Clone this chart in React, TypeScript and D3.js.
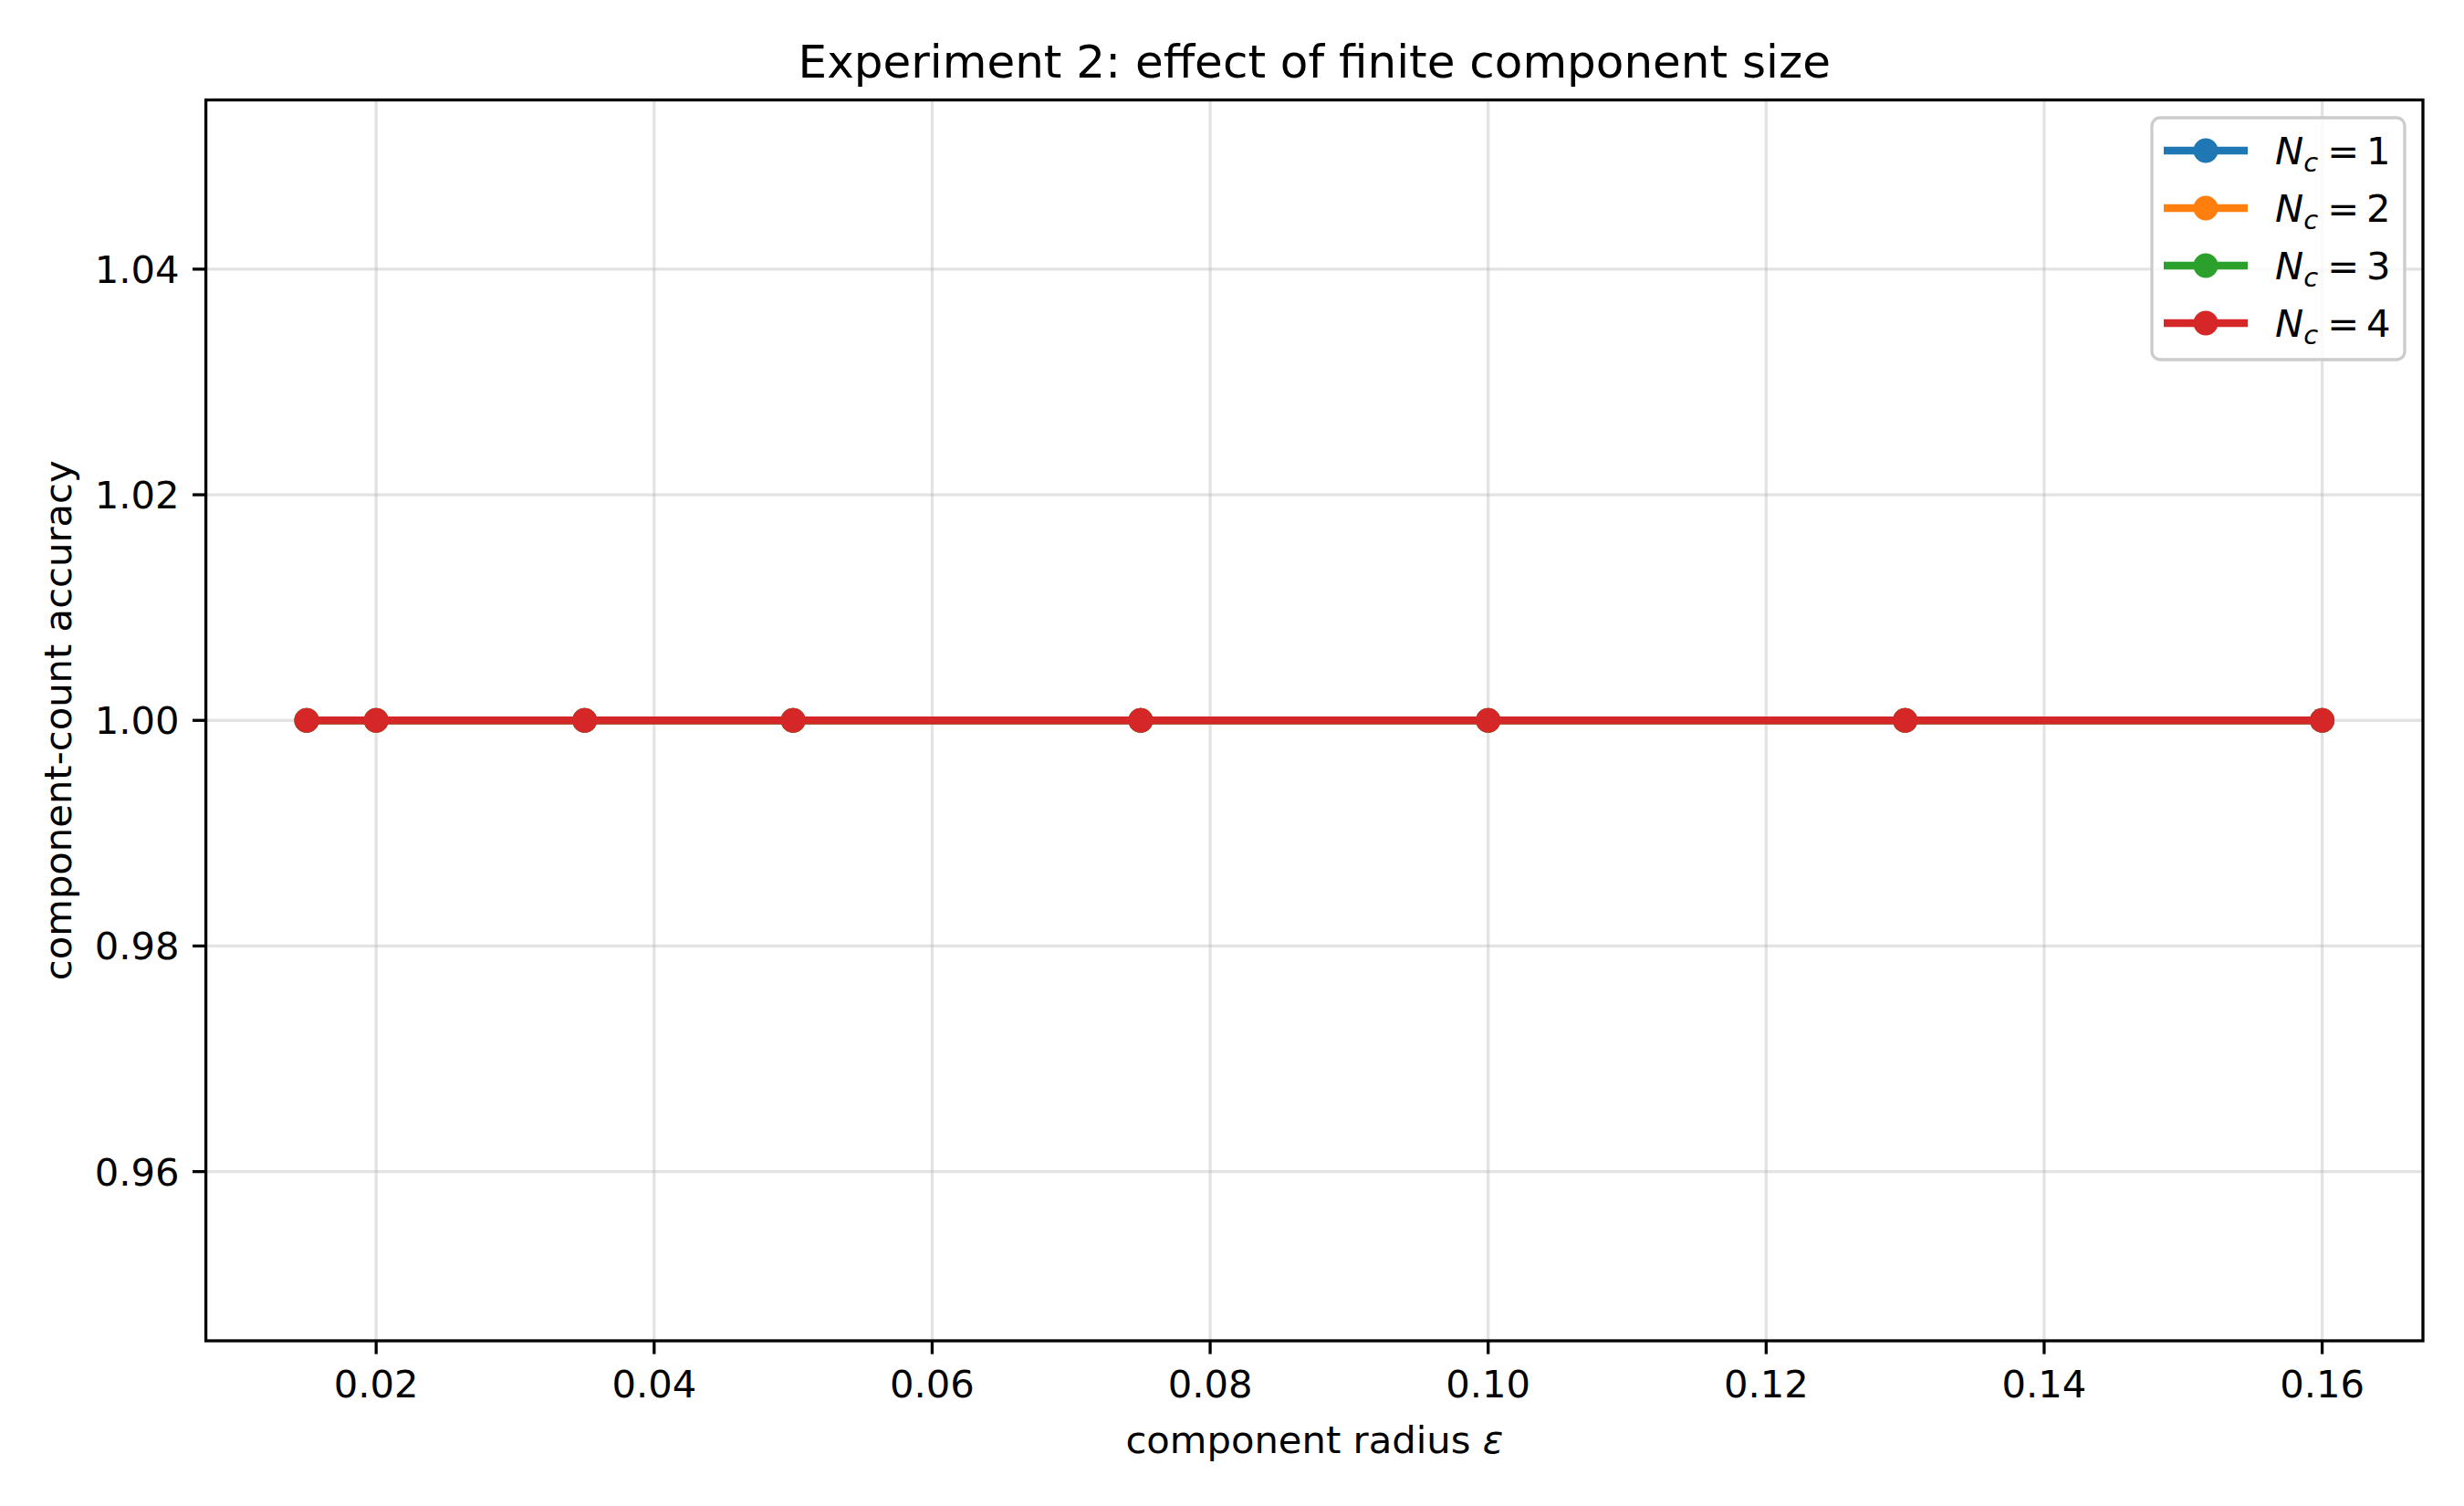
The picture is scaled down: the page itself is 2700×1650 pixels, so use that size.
import React from "react";
import * as d3 from "d3";

const radii = [0.015, 0.02, 0.035, 0.05, 0.075, 0.1, 0.13, 0.16];
const seriesNames = ["1", "2", "3", "4"];
const seriesColors = ["#1f77b4", "#ff7f0e", "#2ca02c", "#d62728"];
const accNc1 = [1, 1, 1, 1, 1, 1, 1, 1];
const accNc2 = [1, 1, 1, 1, 1, 1, 1, 1];
const accNc3 = [1, 1, 1, 1, 1, 1, 1, 1];
const accNc4 = [1, 1, 1, 1, 1, 1, 1, 1];
const xTicks = [0.02, 0.04, 0.06, 0.08, 0.1, 0.12, 0.14, 0.16];
const yTicks = [0.96, 0.98, 1.0, 1.02, 1.04];

const W = 2700;
const H = 1650;
const left = 225.6;
const right = 2655;
const top = 109.5;
const bottom = 1469;
const font = "DejaVu Sans, sans-serif";

export default function App() {
  const x = d3.scaleLinear().domain([0.00775, 0.16725]).range([left, right]);
  const y = d3.scaleLinear().domain([0.945, 1.055]).range([bottom, top]);
  const all = [accNc1, accNc2, accNc3, accNc4];
  const line = d3
    .line<number>()
    .x((_, i) => x(radii[i]))
    .y((d) => y(d));

  return (
    <svg width={W} height={H} style={{ display: "block", position: "absolute", left: 0, top: 0 }} fontFamily={font}>
      <rect width={W} height={H} fill="white" />
      {/* grid */}
      {xTicks.map((t) => (
        <line key={"gx" + t} x1={x(t)} x2={x(t)} y1={top} y2={bottom} stroke="#b0b0b0" strokeOpacity={0.35} strokeWidth={3.3} />
      ))}
      {yTicks.map((t) => (
        <line key={"gy" + t} x1={left} x2={right} y1={y(t)} y2={y(t)} stroke="#b0b0b0" strokeOpacity={0.35} strokeWidth={3.3} />
      ))}
      {/* series */}
      {all.map((vals, k) => (
        <g key={"s" + k}>
          <path d={line(vals) || ""} fill="none" stroke={seriesColors[k]} strokeWidth={8.3} strokeLinejoin="round" strokeLinecap="square" />
          {vals.map((v, i) => (
            <circle key={i} cx={x(radii[i])} cy={y(v)} r={13.5} fill={seriesColors[k]} />
          ))}
        </g>
      ))}
      {/* axes frame */}
      <rect x={left} y={top} width={right - left} height={bottom - top} fill="none" stroke="black" strokeWidth={3.3} />
      {xTicks.map((t) => (
        <g key={"tx" + t}>
          <line x1={x(t)} x2={x(t)} y1={bottom} y2={bottom + 14.6} stroke="black" strokeWidth={3.3} />
          <text x={x(t)} y={bottom + 62} textAnchor="middle" fontSize={41.7} fill="black">
            {t.toFixed(2)}
          </text>
        </g>
      ))}
      {yTicks.map((t) => (
        <g key={"ty" + t}>
          <line x1={left - 14.6} x2={left} y1={y(t)} y2={y(t)} stroke="black" strokeWidth={3.3} />
          <text x={left - 29} y={y(t)} dy="0.36em" textAnchor="end" fontSize={41.7} fill="black">
            {t.toFixed(2)}
          </text>
        </g>
      ))}
      <text x={(left + right) / 2} y={85} textAnchor="middle" fontSize={50} fill="black">
        Experiment 2: effect of finite component size
      </text>
      <text x={(left + right) / 2} y={1592} textAnchor="middle" fontSize={41.7} fill="black">
        component radius <tspan fontStyle="italic">ε</tspan>
      </text>
      <text transform={`translate(78, ${(top + bottom) / 2}) rotate(-90)`} textAnchor="middle" fontSize={41.7} fill="black">
        component-count accuracy
      </text>
      {/* legend */}
      <rect x={2358} y={129} width={277} height={265} rx={9} fill="white" fillOpacity={0.8} stroke="#cccccc" strokeWidth={3.3} />
      {seriesNames.map((n, k) => {
        const ly = 165 + k * 63;
        return (
          <g key={"l" + k}>
            <line x1={2371} x2={2463} y1={ly} y2={ly} stroke={seriesColors[k]} strokeWidth={8.3} />
            <circle cx={2417} cy={ly} r={13.5} fill={seriesColors[k]} />
            <text x={2493} y={ly} dy="0.36em" fontSize={41.7} fill="black">
              <tspan fontStyle="italic">N</tspan>
              <tspan fontStyle="italic" fontSize={29} dy="8">c</tspan>
              <tspan dy="-8" dx="10">=</tspan>
              <tspan dx="8">{n}</tspan>
            </text>
          </g>
        );
      })}
    </svg>
  );
}
